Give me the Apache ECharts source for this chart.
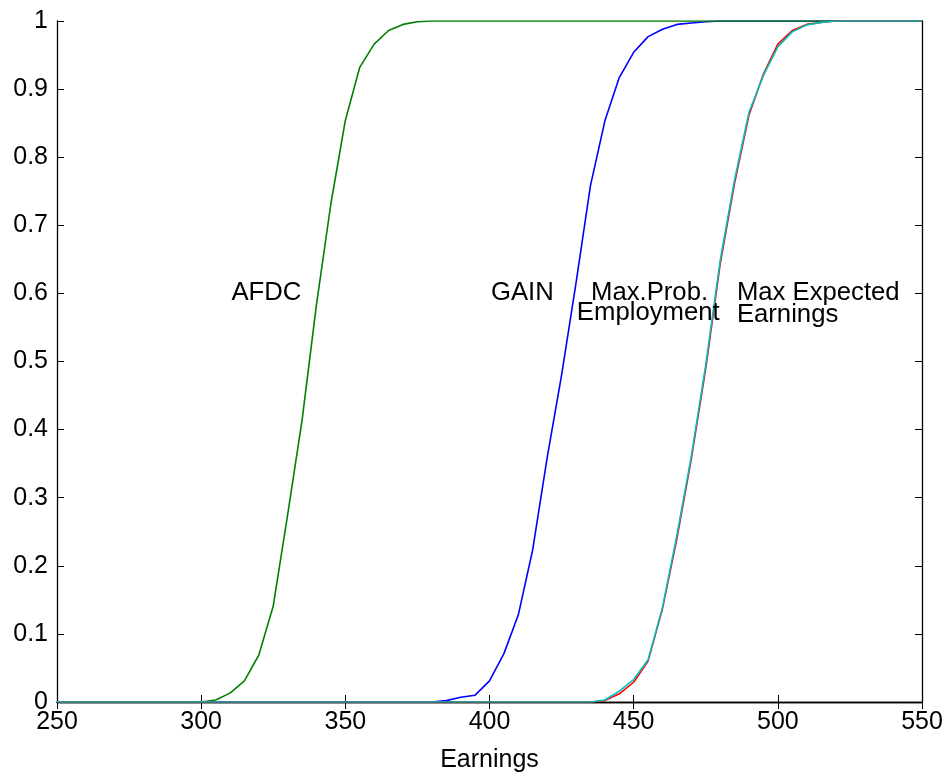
<!DOCTYPE html>
<html>
<head>
<meta charset="utf-8">
<script src="https://cdn.jsdelivr.net/npm/echarts@6/dist/echarts.min.js"></script>
<style>
html,body{margin:0;padding:0;background:#fff;}
#chart{width:949px;height:778px;}
</style>
</head>
<body>
<div id="chart"></div>
<script>
// ---- data ----
var afdcX = [250, 300, 305, 310, 315, 320, 325, 330, 335, 340, 345, 350, 355, 360, 365, 370, 375, 380, 550];
var afdcY = [0, 0, 0.003, 0.013, 0.031, 0.069, 0.141, 0.275, 0.414, 0.584, 0.732, 0.854, 0.932, 0.966, 0.986, 0.995, 0.999, 1, 1];

var gainX = [250, 380, 385, 390, 395, 400, 405, 410, 415, 420, 425, 430, 435, 440, 445, 450, 455, 460, 465, 470, 475, 480, 550];
var gainY = [0, 0, 0.002, 0.007, 0.01, 0.031, 0.071, 0.128, 0.224, 0.359, 0.48, 0.615, 0.758, 0.853, 0.917, 0.954, 0.977, 0.988, 0.995, 0.997, 0.999, 1, 1];

var maxProbX = [250, 435, 440, 445, 450, 455, 460, 465, 470, 475, 480, 485, 490, 495, 500, 505, 510, 515, 520, 550];
var maxProbY = [0, 0, 0.002, 0.012, 0.029, 0.06, 0.137, 0.24, 0.357, 0.49, 0.643, 0.762, 0.862, 0.922, 0.966, 0.986, 0.995, 0.998, 1, 1];

var maxExpX = [250, 435, 440, 445, 450, 455, 460, 465, 470, 475, 480, 485, 490, 495, 500, 505, 510, 515, 520, 550];
var maxExpY = [0, 0, 0.003, 0.016, 0.033, 0.062, 0.139, 0.245, 0.361, 0.495, 0.648, 0.767, 0.866, 0.92, 0.962, 0.984, 0.994, 0.998, 1, 1];

var xTicks = [250, 300, 350, 400, 450, 500, 550];
var yTicks = [0, 0.1, 0.2, 0.3, 0.4, 0.5, 0.6, 0.7, 0.8, 0.9, 1];

var annotText = ['AFDC', 'GAIN', 'Max.Prob.', 'Employment', 'Max Expected', 'Earnings'];
var annotX = [310.5, 400.5, 435.2, 430.3, 485.8, 485.8];
var annotY = [0.6, 0.6, 0.6, 0.571, 0.6, 0.568];

var xName = 'Earnings';

// ---- build ----
function pairs(xs, ys){ return xs.map(function(x,i){ return [x, ys[i]]; }); }
var FONT = '"Liberation Sans", Arial, Helvetica, sans-serif';

function lineSeries(name, xs, ys, color){
  return {
    name: name, type: 'line', data: pairs(xs, ys),
    showSymbol: false, symbol: 'none',
    lineStyle: {color: color, width: 1.6},
    itemStyle: {color: color},
    animation: false, z: 3
  };
}

var chart = echarts.init(document.getElementById('chart'), null, {renderer: 'canvas'});
var axisLineStyle = {color: '#000', width: 1.3};
chart.setOption({
  backgroundColor: '#fff',
  animation: false,
  grid: {left: 57, right: 27, top: 21, bottom: 75, containLabel: false},
  xAxis: [{
    type: 'value', min: xTicks[0], max: xTicks[xTicks.length-1], interval: 50,
    position: 'bottom',
    name: xName, nameLocation: 'middle', nameGap: 46,
    nameTextStyle: {color: '#000', fontSize: 25, fontFamily: FONT},
    axisLine: {show: true, lineStyle: axisLineStyle},
    axisTick: {show: true, inside: true, length: 7, lineStyle: {color: '#000'}},
    axisLabel: {show: true, color: '#000', fontSize: 25, fontFamily: FONT, margin: 8},
    splitLine: {show: false}
  }, {
    type: 'value', min: xTicks[0], max: xTicks[xTicks.length-1], interval: 50,
    position: 'top',
    axisLine: {show: true, lineStyle: axisLineStyle},
    axisTick: {show: true, inside: true, length: 7, lineStyle: {color: '#000'}},
    axisLabel: {show: false},
    splitLine: {show: false}
  }],
  yAxis: [{
    type: 'value', min: yTicks[0], max: yTicks[yTicks.length-1], interval: 0.1,
    position: 'left',
    axisLine: {show: true, lineStyle: axisLineStyle},
    axisTick: {show: true, inside: true, length: 7, lineStyle: {color: '#000'}},
    axisLabel: {show: true, color: '#000', fontSize: 25, fontFamily: FONT, margin: 9,
      formatter: function(v){ return String(Math.round(v*10)/10); }},
    splitLine: {show: false}
  }, {
    type: 'value', min: yTicks[0], max: yTicks[yTicks.length-1], interval: 0.1,
    position: 'right',
    axisLine: {show: true, lineStyle: axisLineStyle},
    axisTick: {show: true, inside: true, length: 7, lineStyle: {color: '#000'}},
    axisLabel: {show: false},
    splitLine: {show: false}
  }],
  series: [
    lineSeries('GAIN', gainX, gainY, '#0000ff'),
    lineSeries('AFDC', afdcX, afdcY, '#008000'),
    lineSeries('Max.Prob. Employment', maxProbX, maxProbY, '#ff0000'),
    lineSeries('Max Expected Earnings', maxExpX, maxExpY, '#00bfbf'),
    {
      name: 'labels', type: 'scatter', symbolSize: 0, silent: true, z: 5,
      itemStyle: {color: '#000', opacity: 1},
      data: annotText.map(function(t,i){ return [annotX[i], annotY[i], t]; }),
      label: {
        show: true, position: 'right', distance: 0, opacity: 1,
        color: '#000', fontSize: 25.7, fontFamily: FONT,
        textBorderWidth: 0,
        verticalAlign: 'middle',
        formatter: function(p){ return p.data[2]; }
      },
      labelLayout: {hideOverlap: false}
    }
  ]
});
</script>
</body>
</html>
